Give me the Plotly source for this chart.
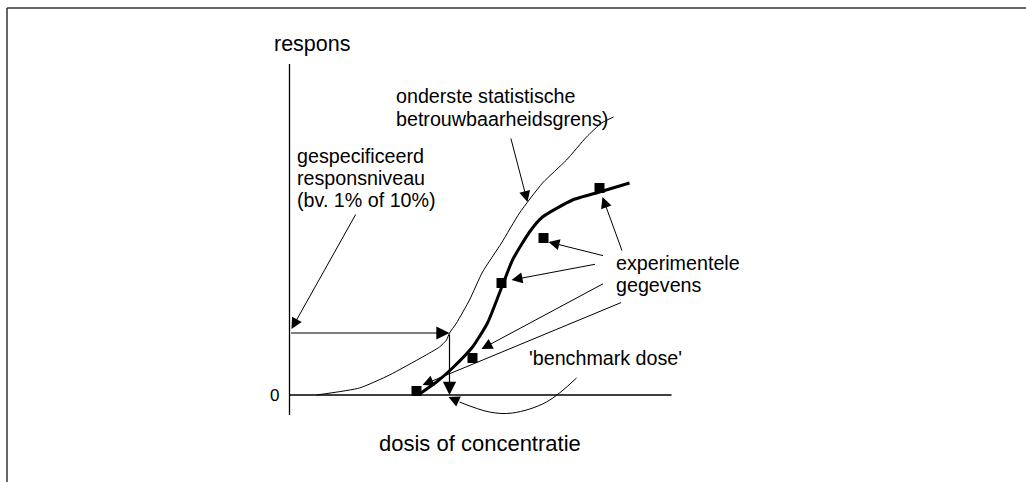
import plotly.graph_objects as go

# ---- data (dose / response, arbitrary schematic units) ----
fit_dose = [13.0, 14.7, 16.3, 18.3, 19.8, 21.0, 22.3, 24.0, 25.3, 28.3, 31.0, 34.0]
fit_resp = [0.1, 1.3, 2.7, 4.8, 7.2, 10.2, 13.5, 16.3, 17.8, 19.5, 20.3, 21.2]

lower_dose = [2.7, 7.0, 10.0, 13.3, 15.0, 15.7, 16.0, 16.7, 18.0, 19.3, 21.2, 23.0, 25.3, 27.7, 29.7, 31.2, 32.4]
lower_resp = [0.0, 0.7, 2.0, 3.8, 4.8, 5.5, 6.2, 7.2, 9.5, 12.3, 15.2, 18.2, 21.2, 23.5, 25.8, 27.2, 27.8]

exp_dose = [12.7, 18.3, 21.2, 25.4, 31.0]
exp_resp = [0.4, 3.7, 11.2, 15.7, 20.7]

bmr_level = 6.2
bmd_dose = 16.0

bmd_curve_dose = [28.7, 25.7, 22.3, 20.0, 17.0]
bmd_curve_resp = [1.7, -0.7, -1.8, -1.7, -0.7]

x_axis_end = 38.2
y_axis_top = 33.1
y_axis_bottom = -2.0

FONT = "Arial, Liberation Sans, sans-serif"

fig = go.Figure()

# axes
fig.add_trace(go.Scatter(x=[0, 0], y=[y_axis_bottom, y_axis_top], mode="lines",
                         line=dict(color="black", width=1.3), hoverinfo="skip"))
fig.add_trace(go.Scatter(x=[0, x_axis_end], y=[0, 0], mode="lines",
                         line=dict(color="black", width=1.3), hoverinfo="skip"))

# lower confidence bound curve (thin)
fig.add_trace(go.Scatter(x=lower_dose, y=lower_resp, mode="lines",
                         line=dict(color="black", width=1, shape="spline", smoothing=0.5),
                         hoverinfo="skip"))
# fitted curve (thick)
fig.add_trace(go.Scatter(x=fit_dose, y=fit_resp, mode="lines",
                         line=dict(color="black", width=3, shape="spline", smoothing=0.5),
                         hoverinfo="skip"))
# experimental data
fig.add_trace(go.Scatter(x=exp_dose, y=exp_resp, mode="markers",
                         marker=dict(symbol="square", size=10, color="black"),
                         hoverinfo="skip"))
# benchmark dose curved pointer
fig.add_trace(go.Scatter(x=bmd_curve_dose, y=bmd_curve_resp, mode="lines",
                         line=dict(color="black", width=1, shape="spline", smoothing=1),
                         hoverinfo="skip"))

annotations = []


def arrow(tail, head, width=1):
    annotations.append(dict(
        x=head[0], y=head[1], ax=tail[0], ay=tail[1],
        xref="x", yref="y", axref="x", ayref="y",
        text="", showarrow=True, arrowhead=2, arrowsize=2.2,
        arrowwidth=width, arrowcolor="black", standoff=0, startstandoff=0))


# level / BMD lines
arrow((0, bmr_level), (bmd_dose, bmr_level), 1.2)
arrow((bmd_dose, bmr_level), (bmd_dose, 0), 1.2)
# pointers
arrow((22.1, 25.8), (23.8, 19.3))
arrow((6.7, 18.2), (0.2, 6.6))
arrow((33.3, 14.3), (31.3, 19.8))
arrow((31.5, 13.9), (25.9, 15.3))
arrow((30.7, 13.1), (22.2, 11.5))
arrow((31.5, 11.2), (19.2, 4.6))
arrow((33.3, 9.3), (13.3, 1.0))
arrow((17.0, -0.7), (15.9, -0.2))


def label(x, y, txt, size=19.7, anchor="left"):
    annotations.append(dict(x=x, y=y, xref="x", yref="y", text=txt, showarrow=False,
                            xanchor=anchor, yanchor="middle",
                            font=dict(family=FONT, size=size, color="black")))


label(-1.75, 35.1, "respons", 21.5)
label(10.45, 29.9, "onderste statistische")
label(10.45, 27.6, "betrouwbaarheidsgrens)")
label(0.55, 23.9, "gespecificeerd")
label(0.55, 21.7, "responsniveau")
label(0.55, 19.5, "(bv. 1% of 10%)")
label(32.45, 13.2, "experimentele")
label(32.45, 11.0, "gegevens")
label(23.75, 3.7, "'benchmark dose'")
label(-1.5, 0, "0", 17, "center")
label(19.05, -4.8, "dosis of concentratie", 22, "center")

frame_x = 7 / 1026
frame_y = 1 - 8 / 482
fig.update_layout(
    width=1026, height=482,
    margin=dict(l=0, r=0, t=0, b=0),
    paper_bgcolor="white", plot_bgcolor="white",
    showlegend=False,
    xaxis=dict(visible=False, range=[-28.95, 73.65], fixedrange=True),
    yaxis=dict(visible=False, range=[-8.7, 39.5], fixedrange=True),
    annotations=annotations,
    shapes=[
        dict(type="line", xref="paper", yref="paper", x0=frame_x, x1=frame_x, y0=0, y1=frame_y,
             line=dict(color="#333333", width=1.5), layer="above"),
        dict(type="line", xref="paper", yref="paper", x0=frame_x, x1=1, y0=frame_y, y1=frame_y,
             line=dict(color="#333333", width=1.5), layer="above"),
    ],
)

fig.write_html(
    "out.html", config={"displayModeBar": False},
    post_script=("document.documentElement.style.overflow='hidden';"
                 "document.body.style.margin='0';document.body.style.overflow='hidden';"))
